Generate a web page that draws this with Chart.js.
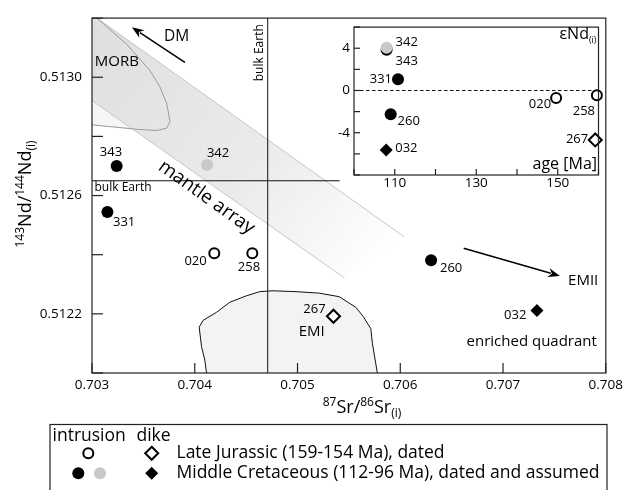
<!DOCTYPE html>
<html>
<head>
<meta charset="utf-8">
<script src="https://cdn.jsdelivr.net/npm/chart.js@4.4.0/dist/chart.umd.min.js"></script>
<style>
html, body { margin: 0; padding: 0; background: #fff; }
#wrap { position: relative; width: 627px; height: 490px; overflow: hidden; }
#main { position: absolute; left: 0; top: 0; }
#inset { position: absolute; left: 330px; top: 15px; }
</style>
</head>
<body>
<div id="wrap">
  <canvas id="main" width="627" height="490"></canvas>
  <canvas id="inset" width="277" height="180"></canvas>
</div>
<script>
// ---- data ----
// Late Jurassic intrusions (open circles)
var ljIntrId  = ['020', '258'];
var ljIntrSr  = [0.70419, 0.70456];
var ljIntrNd  = [0.512405, 0.512405];
var ljIntrAge = [149.6, 159.6];
var ljIntrEps = [-0.72, -0.45];
// Late Jurassic dike (open diamond)
var ljDikeId  = ['267'];
var ljDikeSr  = [0.70535];
var ljDikeNd  = [0.512192];
var ljDikeAge = [159.2];
var ljDikeEps = [-4.68];
// Middle Cretaceous intrusions, dated (black circles)
var mcIntrId  = ['343', '331', '260'];
var mcIntrSr  = [0.70324, 0.70315, 0.70630];
var mcIntrNd  = [0.51270, 0.512544, 0.512381];
var mcIntrAge = [108, 110.8, 109];
var mcIntrEps = [3.85, 1.07, -2.24];
// Middle Cretaceous intrusion, assumed (grey circle)
var mcAssId  = ['342'];
var mcAssSr  = [0.70412];
var mcAssNd  = [0.512703];
var mcAssAge = [108];
var mcAssEps = [4.05];
// Middle Cretaceous dike (black diamond)
var mcDikeId  = ['032'];
var mcDikeSr  = [0.70733];
var mcDikeNd  = [0.512211];
var mcDikeAge = [107.9];
var mcDikeEps = [-5.64];

// reference values and fields (Sr, Nd)
var bulkEarthSr = 0.70471;
var bulkEarthNd = 0.51265;
var bandSr = [0.703, 0.703048, 0.706036, 0.705454, 0.703];
var bandNd = [0.5132, 0.5132, 0.512461, 0.512322, 0.512921];
var morbSr = [0.703, 0.703048, 0.703339, 0.703565, 0.703662, 0.703727, 0.703759, 0.703727, 0.70363, 0.703436, 0.703177, 0.703];
var morbNd = [0.5132, 0.5132, 0.513111, 0.513022, 0.512967, 0.512911, 0.51285, 0.512828, 0.51282, 0.512824, 0.512833, 0.512839];
var emiSr = [0.704114, 0.704098, 0.704066, 0.704043, 0.704081, 0.704211, 0.70434, 0.704502, 0.704631, 0.70476, 0.704986, 0.705212, 0.705406, 0.705568, 0.705639, 0.705713, 0.705729, 0.705777];
var emiNd = [0.5120, 0.512044, 0.512089, 0.512155, 0.512178, 0.512205, 0.512239, 0.512261, 0.512275, 0.512278, 0.512275, 0.51227, 0.512258, 0.512222, 0.512191, 0.51215, 0.5121, 0.5120];

// axis ticks
var xTickLabels = ['0.703', '0.704', '0.705', '0.706', '0.707', '0.708'];
var yTickLabels = ['0.5122', '0.5126', '0.5130'];
var insetXLabels = ['110', '130', '150'];
var insetYLabels = ['4', '0', '-4'];

var legendHeads = ['intrusion', 'dike'];
var legendRows = ['Late Jurassic (159-154 Ma), dated', 'Middle Cretaceous (112-96 Ma), dated and assumed'];

// ---- layout of labels (pixel offsets from the mark) ----
var mainLabelPos = {
  '343': [-5.7, -13.3, 'center'], '342': [11, -12, 'center'], '331': [16.7, 10, 'center'],
  '020': [-18.7, 8.3, 'center'], '258': [-3.3, 14, 'center'], '260': [20, 7.7, 'center'],
  '267': [-19, -6.7, 'center'], '032': [-21.7, 5, 'center']
};
var insetLabelPos = {
  '342': [9, -5, 'left'], '343': [9, 11, 'left'], '331': [-6, 0, 'right'],
  '260': [18, 7, 'center'], '032': [9, -2, 'left'], '020': [-5, 6, 'right'],
  '258': [-13, 16, 'center'], '267': [-7, -1, 'right']
};

var FONT = "'Open Sans', sans-serif";
var INK = '#000';

function pts(xs, ys, ids) {
  return xs.map(function (x, i) { return { x: x, y: ys[i], id: ids[i] }; });
}

function openCircle(d) { return { data: d, pointStyle: 'circle', pointRadius: 5, borderWidth: 2, borderColor: '#000', backgroundColor: '#fff', clip: false }; }
function openDiamond(d) { return { data: d, pointStyle: 'rectRot', pointRadius: 6.5, borderWidth: 2, borderColor: '#000', backgroundColor: '#fff', clip: false }; }
function fillCircle(d, c) { return { data: d, pointStyle: 'circle', pointRadius: 6, borderWidth: 0, borderColor: c, backgroundColor: c, clip: false }; }
function fillDiamond(d) { return { data: d, pointStyle: 'rectRot', pointRadius: 6.5, borderWidth: 0, backgroundColor: '#000', clip: false }; }

function font(size) { return size + 'px ' + FONT; }

function text(ctx, s, x, y, size, align) {
  ctx.font = font(size);
  ctx.textAlign = align || 'center';
  ctx.textBaseline = 'middle';
  ctx.fillStyle = INK;
  ctx.fillText(s, x, y);
}

// pieces: [text, size, baselineShift]
function richText(ctx, pieces, x, y, align) {
  var total = 0;
  pieces.forEach(function (p) { ctx.font = font(p[1]); total += ctx.measureText(p[0]).width; });
  var cx = align === 'right' ? x - total : x - total / 2;
  ctx.textAlign = 'left';
  ctx.textBaseline = 'alphabetic';
  ctx.fillStyle = INK;
  pieces.forEach(function (p) {
    ctx.font = font(p[1]);
    ctx.fillText(p[0], cx, y + p[2]);
    cx += ctx.measureText(p[0]).width;
  });
}

function arrow(ctx, x1, y1, x2, y2) {
  var ang = Math.atan2(y2 - y1, x2 - x1), L = 12, W = 4.5;
  ctx.strokeStyle = '#000'; ctx.lineWidth = 1.5;
  ctx.beginPath(); ctx.moveTo(x1, y1);
  ctx.lineTo(x2 - Math.cos(ang) * L * 0.8, y2 - Math.sin(ang) * L * 0.8); ctx.stroke();
  ctx.fillStyle = '#000';
  ctx.beginPath(); ctx.moveTo(x2, y2);
  ctx.lineTo(x2 - Math.cos(ang) * L - Math.sin(ang) * W, y2 - Math.sin(ang) * L + Math.cos(ang) * W);
  ctx.lineTo(x2 - Math.cos(ang) * L * 0.7, y2 - Math.sin(ang) * L * 0.7);
  ctx.lineTo(x2 - Math.cos(ang) * L + Math.sin(ang) * W, y2 - Math.sin(ang) * L - Math.cos(ang) * W);
  ctx.closePath(); ctx.fill();
}

function path(ctx, chart, xs, ys, from, to, close) {
  var sx = chart.scales.x, sy = chart.scales.y;
  ctx.beginPath();
  for (var i = from; i <= to; i++) {
    var px = sx.getPixelForValue(xs[i]), py = sy.getPixelForValue(ys[i]);
    if (i === from) ctx.moveTo(px, py); else ctx.lineTo(px, py);
  }
  if (close) ctx.closePath();
}

function labelPoints(chart, pos, size) {
  var ctx = chart.ctx;
  chart.data.datasets.forEach(function (ds, di) {
    var meta = chart.getDatasetMeta(di);
    meta.data.forEach(function (el, i) {
      var id = ds.data[i].id, o = pos[id];
      text(ctx, id, el.x + o[0], el.y + o[1], size, o[2]);
    });
  });
}

function frame(ctx, a) {
  ctx.strokeStyle = '#222'; ctx.lineWidth = 1.2;
  ctx.strokeRect(a.left, a.top, a.right - a.left, a.bottom - a.top);
}

// ---- main Sr-Nd diagram ----
var mainPlugin = {
  id: 'mainDecor',
  beforeDatasetsDraw: function (chart) {
    var ctx = chart.ctx, a = chart.chartArea, sx = chart.scales.x, sy = chart.scales.y;
    ctx.save();
    ctx.beginPath(); ctx.rect(a.left, a.top, a.right - a.left, a.bottom - a.top); ctx.clip();
    // MORB field
    path(ctx, chart, morbSr, morbNd, 0, morbSr.length - 1, true);
    ctx.fillStyle = '#f6f6f6'; ctx.fill();
    // mantle array
    path(ctx, chart, bandSr, bandNd, 0, bandSr.length - 1, true);
    var g = ctx.createLinearGradient(sx.getPixelForValue(0.7031), sy.getPixelForValue(0.5131),
                                     sx.getPixelForValue(0.7058), sy.getPixelForValue(0.51237));
    g.addColorStop(0, '#e0e0e0'); g.addColorStop(0.55, '#ebebeb'); g.addColorStop(1, '#ffffff');
    ctx.fillStyle = g; ctx.fill();
    ctx.strokeStyle = '#c6c6c6'; ctx.lineWidth = 1;
    path(ctx, chart, bandSr, bandNd, 1, 2, false); ctx.stroke();
    path(ctx, chart, bandSr, bandNd, 3, 4, false); ctx.stroke();
    ctx.strokeStyle = '#9a9a9a';
    path(ctx, chart, morbSr, morbNd, 1, morbSr.length - 1, false); ctx.stroke();
    // EMI field
    path(ctx, chart, emiSr, emiNd, 0, emiSr.length - 1, true);
    ctx.fillStyle = '#f3f3f3'; ctx.fill();
    ctx.strokeStyle = '#111'; ctx.lineWidth = 1;
    path(ctx, chart, emiSr, emiNd, 0, emiSr.length - 1, false); ctx.stroke();
    // bulk Earth lines
    var bx = sx.getPixelForValue(bulkEarthSr), by = sy.getPixelForValue(bulkEarthNd);
    ctx.strokeStyle = '#111'; ctx.lineWidth = 1;
    ctx.beginPath(); ctx.moveTo(bx, a.top); ctx.lineTo(bx, a.bottom); ctx.stroke();
    ctx.beginPath(); ctx.moveTo(a.left, by); ctx.lineTo(sx.getPixelForValue(0.70541), by); ctx.stroke();
    ctx.restore();

    // annotations
    function X(v) { return sx.getPixelForValue(v); }
    function Y(v) { return sy.getPixelForValue(v); }
    text(ctx, 'bulk Earth', a.left + 2.5, by + 7, 12, 'left');
    ctx.save(); ctx.translate(bx - 8, Y(0.513083)); ctx.rotate(-Math.PI / 2);
    text(ctx, 'bulk Earth', 0, 0, 12, 'center'); ctx.restore();
    text(ctx, 'MORB', X(0.703242), Y(0.513053), 15);
    text(ctx, 'DM', X(0.703824), Y(0.513137), 15.5);
    arrow(ctx, X(0.703904), Y(0.51305), X(0.703388), Y(0.513169));
    var ang = Math.atan2(Y(bandNd[2]) - Y(bandNd[1]), X(bandSr[2]) - X(bandSr[1]));
    ctx.save(); ctx.translate(X(0.704114), Y(0.512594)); ctx.rotate(ang);
    text(ctx, 'mantle array', 0, 0, 19); ctx.restore();
    text(ctx, 'EMI', X(0.705138), Y(0.512139), 15);
    text(ctx, 'EMII', X(0.70778), Y(0.512311), 15);
    arrow(ctx, X(0.706617), Y(0.512422), X(0.707554), Y(0.512328));
    text(ctx, 'enriched quadrant', X(0.707279), Y(0.512105), 15);
  },
  afterDatasetsDraw: function (chart) {
    labelPoints(chart, mainLabelPos, 13);
  },
  afterDraw: function (chart) {
    var ctx = chart.ctx, a = chart.chartArea, sx = chart.scales.x, sy = chart.scales.y;
    frame(ctx, a);
    ctx.strokeStyle = '#222'; ctx.lineWidth = 1.2;
    sx.ticks.forEach(function (t) {
      var px = sx.getPixelForValue(t.value);
      ctx.beginPath(); ctx.moveTo(px, a.bottom); ctx.lineTo(px, a.bottom - 10); ctx.stroke();
    });
    sy.ticks.forEach(function (t) {
      var py = sy.getPixelForValue(t.value);
      ctx.beginPath(); ctx.moveTo(a.left, py); ctx.lineTo(a.left + 11, py); ctx.stroke();
    });
    // axis titles
    richText(ctx, [['87', 12, -7], ['Sr/', 18, 0], ['86', 12, -7], ['Sr', 18, 0], ['(i)', 12, 4]], 362, 413);
    ctx.save(); ctx.translate(31, 194); ctx.rotate(-Math.PI / 2);
    richText(ctx, [['143', 12, -7], ['Nd/', 18, 0], ['144', 12, -7], ['Nd', 18, 0], ['(i)', 12, 4]], 0, 0);
    ctx.restore();
    // legend
    ctx.strokeStyle = '#222'; ctx.lineWidth = 1.2;
    ctx.strokeRect(50, 424.5, 557, 80);
    text(ctx, legendHeads[0], 52.5, 436.5, 17.5, 'left');
    text(ctx, legendHeads[1], 136.5, 436.5, 17.5, 'left');
    text(ctx, legendRows[0], 176.5, 453, 17.5, 'left');
    text(ctx, legendRows[1], 176.5, 473.5, 17.5, 'left');
    ctx.lineWidth = 2; ctx.strokeStyle = '#000'; ctx.fillStyle = '#fff';
    ctx.beginPath(); ctx.arc(88.3, 453.3, 5, 0, Math.PI * 2); ctx.fill(); ctx.stroke();
    ctx.beginPath(); ctx.moveTo(151.7, 446.8); ctx.lineTo(158.2, 453.3); ctx.lineTo(151.7, 459.8); ctx.lineTo(145.2, 453.3); ctx.closePath(); ctx.stroke();
    ctx.fillStyle = '#000';
    ctx.beginPath(); ctx.arc(78.3, 473.3, 6, 0, Math.PI * 2); ctx.fill();
    ctx.beginPath(); ctx.moveTo(151.7, 466.8); ctx.lineTo(158.2, 473.3); ctx.lineTo(151.7, 479.8); ctx.lineTo(145.2, 473.3); ctx.closePath(); ctx.fill();
    ctx.fillStyle = '#c8c8c8';
    ctx.beginPath(); ctx.arc(100, 473.3, 6, 0, Math.PI * 2); ctx.fill();
  }
};

new Chart(document.getElementById('main'), {
  type: 'scatter',
  data: {
    datasets: [
      fillCircle(pts(mcAssSr, mcAssNd, mcAssId), '#c8c8c8'),
      fillCircle(pts(mcIntrSr, mcIntrNd, mcIntrId), '#000'),
      fillDiamond(pts(mcDikeSr, mcDikeNd, mcDikeId)),
      openCircle(pts(ljIntrSr, ljIntrNd, ljIntrId)),
      openDiamond(pts(ljDikeSr, ljDikeNd, ljDikeId))
    ]
  },
  options: {
    responsive: false,
    animation: false,
    events: [],
    layout: { padding: { left: 0, right: 19, top: 13, bottom: 0 } },
    plugins: { legend: { display: false }, tooltip: { enabled: false } },
    scales: {
      x: {
        type: 'linear', min: 0.703, max: 0.708,
        grid: { display: false, drawTicks: false }, border: { display: false },
        ticks: {
          stepSize: 0.001, autoSkip: false, maxRotation: 0, padding: 4,
          color: INK, font: { family: FONT, size: 13.5 },
          callback: function (v) {
            var s = (Math.round(v * 1000) / 1000).toFixed(3);
            return xTickLabels.indexOf(s) >= 0 ? s : '';
          }
        },
        afterFit: function (s) { s.height = 117; }
      },
      y: {
        type: 'linear', min: 0.5120, max: 0.5132,
        grid: { display: false, drawTicks: false }, border: { display: false },
        ticks: {
          stepSize: 0.0002, autoSkip: false, padding: 10,
          color: INK, font: { family: FONT, size: 13.5 },
          callback: function (v) {
            var s = (Math.round(v * 10000) / 10000).toFixed(4);
            return yTickLabels.indexOf(s) >= 0 ? s : '';
          }
        },
        afterFit: function (s) { s.width = 92; }
      }
    }
  },
  plugins: [mainPlugin]
});

// ---- inset: eNd vs age ----
var insetPlugin = {
  id: 'insetDecor',
  beforeDatasetsDraw: function (chart) {
    var ctx = chart.ctx, a = chart.chartArea, py = chart.scales.y.getPixelForValue(0);
    ctx.save();
    ctx.strokeStyle = '#111'; ctx.lineWidth = 1; ctx.setLineDash([3.5, 2.5]);
    ctx.beginPath(); ctx.moveTo(a.left, py); ctx.lineTo(a.right, py); ctx.stroke();
    ctx.restore();
  },
  afterDatasetsDraw: function (chart) {
    labelPoints(chart, insetLabelPos, 13);
  },
  afterDraw: function (chart) {
    var ctx = chart.ctx, a = chart.chartArea, sx = chart.scales.x, sy = chart.scales.y;
    frame(ctx, a);
    ctx.strokeStyle = '#222'; ctx.lineWidth = 1.2;
    sx.ticks.forEach(function (t) {
      var px = sx.getPixelForValue(t.value);
      ctx.beginPath(); ctx.moveTo(px, a.bottom); ctx.lineTo(px, a.bottom - 6); ctx.stroke();
    });
    sy.ticks.forEach(function (t) {
      var py = sy.getPixelForValue(t.value);
      ctx.beginPath(); ctx.moveTo(a.left, py); ctx.lineTo(a.left + 6, py); ctx.stroke();
    });
    richText(ctx, [['\u03b5Nd', 16, 0], ['(i)', 9, 4]], a.right - 2, 24, 'right');
    text(ctx, 'age [Ma]', a.right - 1.5, a.bottom - 11, 16, 'right');
  }
};

new Chart(document.getElementById('inset'), {
  type: 'scatter',
  data: {
    datasets: [
      fillCircle(pts(mcAssAge, mcAssEps, mcAssId), '#c8c8c8'),
      fillCircle(pts(mcIntrAge, mcIntrEps, mcIntrId), '#000'),
      fillDiamond(pts(mcDikeAge, mcDikeEps, mcDikeId)),
      openCircle(pts(ljIntrAge, ljIntrEps, ljIntrId)),
      openDiamond(pts(ljDikeAge, ljDikeEps, ljDikeId))
    ]
  },
  options: {
    responsive: false,
    animation: false,
    events: [],
    layout: { padding: { left: 0, right: 7, top: 4, bottom: 0 } },
    plugins: { legend: { display: false }, tooltip: { enabled: false } },
    scales: {
      x: {
        type: 'linear', min: 100, max: 160,
        grid: { display: false, drawTicks: false }, border: { display: false },
        ticks: {
          stepSize: 10, autoSkip: false, maxRotation: 0, padding: 0,
          color: INK, font: { family: FONT, size: 13.5 },
          callback: function (v) { var s = String(Math.round(v)); return insetXLabels.indexOf(s) >= 0 ? s : ''; }
        },
        afterFit: function (s) { s.height = 20; }
      },
      y: {
        type: 'linear', min: -8, max: 6,
        grid: { display: false, drawTicks: false }, border: { display: false },
        ticks: {
          stepSize: 2, autoSkip: false, padding: 4,
          color: INK, font: { family: FONT, size: 13.5 },
          callback: function (v) { var s = String(Math.round(v)); return insetYLabels.indexOf(s) >= 0 ? s : ''; }
        },
        afterFit: function (s) { s.width = 24; }
      }
    }
  },
  plugins: [insetPlugin]
});
</script>
</body>
</html>
